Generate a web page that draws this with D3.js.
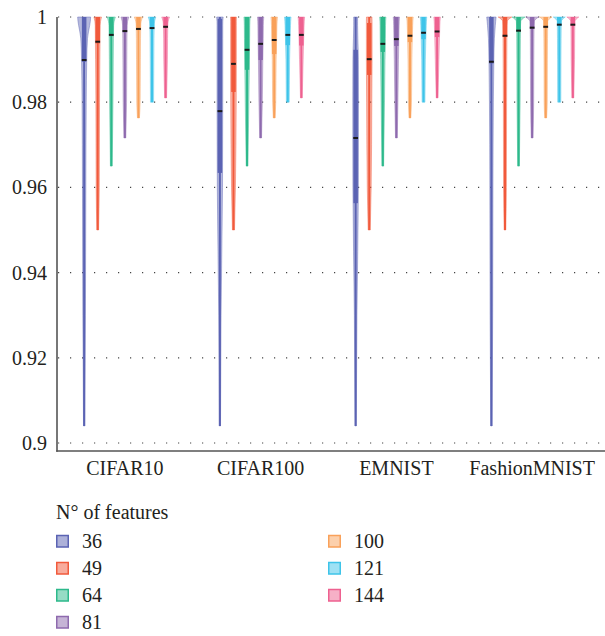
<!DOCTYPE html>
<html><head><meta charset="utf-8">
<script src="https://cdn.jsdelivr.net/npm/d3@7"></script>
<style>
body{margin:0;background:#fff;}
svg{display:block;}
text{font-family:"Liberation Serif","Times New Roman",serif;fill:#231f20;}
</style></head>
<body><svg id="chart" width="605" height="636"></svg>
<script>
// ---- data ----
const datasets = ["CIFAR10", "CIFAR100", "EMNIST", "FashionMNIST"];
const features = ["36", "49", "64", "81", "100", "121", "144"];
const yTicks = [0.9, 0.92, 0.94, 0.96, 0.98, 1];
const yTickLabels = ["0.9", "0.92", "0.94", "0.96", "0.98", "1"];

// lower extremes (same for every dataset) and upper extremes
const minValues = [0.904, 0.950, 0.965, 0.9716, 0.9763, 0.980, 0.981];
const maxValues = [1, 1, 1, 1, 1, 1, 1];

const medCIFAR10 = [0.9899, 0.9942, 0.9958, 0.9967, 0.9972, 0.9974, 0.9977];
const q1CIFAR10  = [0.9895, 0.9938, 0.9955, 0.9964, 0.9969, 0.9972, 0.9975];
const q3CIFAR10  = [1, 1, 1, 1, 1, 1, 1];

const medCIFAR100 = [0.9779, 0.9890, 0.9923, 0.9937, 0.9946, 0.9958, 0.9958];
const q1CIFAR100  = [0.9634, 0.9824, 0.9876, 0.9899, 0.9913, 0.9934, 0.9933];
const q3CIFAR100  = [0.9996, 1, 1, 1, 1, 1, 1];

const medEMNIST = [0.9716, 0.9901, 0.9937, 0.9948, 0.9956, 0.9963, 0.9966];
const q1EMNIST  = [0.9563, 0.9864, 0.9918, 0.9932, 0.9941, 0.9948, 0.9953];
const q3EMNIST  = [0.9923, 0.9986, 1, 1, 1, 1, 1];

const medFashion = [0.9895, 0.9956, 0.9968, 0.9975, 0.9977, 0.9982, 0.9982];
const q1Fashion  = [0.9891, 0.9953, 0.9965, 0.9972, 0.9974, 0.9979, 0.9979];
const q3Fashion  = [1, 1, 1, 1, 1, 1, 1];

// relative density of each violin at these accuracy levels
const densLevels = [1, 0.999, 0.998, 0.995, 0.99, 0.98, 0.96, 0.93, 0.90];
const densCIFAR10 = [
  [1.0, 0.95, 0.85, 0.52, 0.40, 0.32, 0.26, 0.20, 0.16],
  [0.58, 0.44, 0.38, 0.36, 0.33, 0.28, 0.24, 0.20, 0.20],
  [0.62, 0.44, 0.36, 0.33, 0.30, 0.26, 0.22, 0.20, 0.20],
  [0.60, 0.42, 0.35, 0.32, 0.30, 0.26, 0.22, 0.20, 0.20],
  [0.64, 0.42, 0.35, 0.32, 0.30, 0.26, 0.22, 0.20, 0.20],
  [0.58, 0.40, 0.34, 0.30, 0.28, 0.24, 0.20, 0.20, 0.20],
  [0.60, 0.40, 0.34, 0.30, 0.28, 0.24, 0.20, 0.20, 0.20]
];
const densCIFAR100 = [
  [0.50, 0.45, 0.44, 0.44, 0.44, 0.44, 0.40, 0.18, 0.15],
  [0.45, 0.44, 0.44, 0.44, 0.44, 0.42, 0.30, 0.20, 0.20],
  [0.48, 0.44, 0.42, 0.40, 0.36, 0.28, 0.20, 0.20, 0.20],
  [0.48, 0.44, 0.42, 0.40, 0.34, 0.26, 0.20, 0.20, 0.20],
  [0.50, 0.45, 0.42, 0.38, 0.30, 0.24, 0.20, 0.20, 0.20],
  [0.50, 0.45, 0.42, 0.36, 0.28, 0.22, 0.20, 0.20, 0.20],
  [0.50, 0.45, 0.42, 0.36, 0.28, 0.22, 0.20, 0.20, 0.20]
];
const densEMNIST = [
  [0.30, 0.30, 0.30, 0.34, 0.42, 0.44, 0.42, 0.20, 0.15],
  [0.42, 0.44, 0.44, 0.44, 0.44, 0.40, 0.30, 0.20, 0.20],
  [0.48, 0.44, 0.42, 0.40, 0.34, 0.26, 0.20, 0.20, 0.20],
  [0.48, 0.44, 0.42, 0.38, 0.32, 0.24, 0.20, 0.20, 0.20],
  [0.50, 0.45, 0.42, 0.36, 0.30, 0.24, 0.20, 0.20, 0.20],
  [0.50, 0.45, 0.42, 0.36, 0.28, 0.22, 0.20, 0.20, 0.20],
  [0.50, 0.45, 0.42, 0.36, 0.28, 0.22, 0.20, 0.20, 0.20]
];
const densFashion = [
  [0.72, 0.66, 0.60, 0.46, 0.38, 0.30, 0.24, 0.20, 0.16],
  [1.05, 0.36, 0.32, 0.30, 0.28, 0.25, 0.22, 0.20, 0.20],
  [1.00, 0.34, 0.30, 0.28, 0.26, 0.24, 0.20, 0.20, 0.20],
  [1.00, 0.34, 0.30, 0.28, 0.26, 0.24, 0.20, 0.20, 0.20],
  [0.95, 0.32, 0.30, 0.28, 0.26, 0.24, 0.20, 0.20, 0.20],
  [0.92, 0.32, 0.30, 0.28, 0.26, 0.24, 0.20, 0.20, 0.20],
  [0.92, 0.32, 0.30, 0.28, 0.26, 0.24, 0.20, 0.20, 0.20]
];

const legendTitle = "N° of features";
const palette = ["#5b63b3", "#f15a3c", "#2db98b", "#8e6aae", "#f9a15a", "#3ec4e9", "#ee6190"];

// ---- assemble ----
const statTable = {
  CIFAR10: [medCIFAR10, q1CIFAR10, q3CIFAR10, densCIFAR10],
  CIFAR100: [medCIFAR100, q1CIFAR100, q3CIFAR100, densCIFAR100],
  EMNIST: [medEMNIST, q1EMNIST, q3EMNIST, densEMNIST],
  FashionMNIST: [medFashion, q1Fashion, q3Fashion, densFashion]
};
const violins = [];
datasets.forEach(ds => {
  const [med, q1, q3, dens] = statTable[ds];
  features.forEach((f, i) => {
    violins.push({ds, f, i, min: minValues[i], max: maxValues[i], med: med[i], q1: q1[i], q3: q3[i], dens: dens[i]});
  });
});

const svg = d3.select("#chart");
const x0 = d3.scaleBand().domain(datasets).range([57, 600]);
const x1 = d3.scalePoint().domain(features).range([0, x0.bandwidth()]).padding(2);
const y = d3.scaleLinear().domain([0.9, 1]).range([443, 17]);
const color = d3.scaleOrdinal().domain(features).range(palette);
const w = d3.scaleLinear().domain([0, 1]).range([0, 6.5]);
const axisY = 451;

// gridlines
svg.append("g").selectAll("line").data(yTicks).join("line")
  .attr("x1", 58).attr("x2", 605)
  .attr("y1", d => y(d)).attr("y2", d => y(d))
  .attr("stroke", "#444").attr("stroke-width", 1.2)
  .attr("stroke-dasharray", "1.2,10.8");

const g = svg.append("g");
violins.forEach(v => {
  const cx = x0(v.ds) + x1(v.f);
  const col = color(v.f);
  const dScale = d3.scaleLinear().domain(densLevels).range(v.dens);
  const pts = densLevels.map((l, k) => ({v: l, d: v.dens[k]})).filter(p => p.v >= v.min && p.v <= v.max);
  pts.push({v: v.min, d: dScale(v.min) * 0.6});
  const area = d3.area()
    .y(p => y(p.v))
    .x0(p => cx - w(p.d))
    .x1(p => cx + w(p.d))
    .curve(d3.curveMonotoneY);
  g.append("path").attr("d", area(pts))
    .attr("fill", col).attr("fill-opacity", 0.45)
    .attr("stroke", col).attr("stroke-opacity", 0.55).attr("stroke-width", 0.8);
  // whisker
  g.append("line").attr("x1", cx).attr("x2", cx)
    .attr("y1", y(v.max)).attr("y2", y(v.min))
    .attr("stroke", col).attr("stroke-width", 2);
  // box
  g.append("rect").attr("x", cx - 2.25).attr("width", 4.5)
    .attr("y", y(v.q3)).attr("height", y(v.q1) - y(v.q3))
    .attr("fill", col);
  // median
  g.append("rect").attr("x", cx - 2.4).attr("width", 4.8)
    .attr("y", y(v.med) - 1).attr("height", 2)
    .attr("fill", "#1a1a1a");
});

// axes
const yAxis = svg.append("g").attr("transform", "translate(57,0)")
  .call(d3.axisLeft(y).tickValues(yTicks).tickFormat((d, i) => yTickLabels[i]).tickSize(0).tickPadding(10));
yAxis.select(".domain").remove();
yAxis.selectAll("text").attr("font-size", 20).style("font-family", "Liberation Serif, serif").attr("fill", "#231f20");

const xAxis = svg.append("g").attr("transform", `translate(0,${axisY})`)
  .call(d3.axisBottom(x0).tickSize(0).tickPadding(10));
xAxis.select(".domain").remove();
xAxis.selectAll("text").attr("font-size", 20).style("font-family", "Liberation Serif, serif").attr("fill", "#231f20");

svg.append("line").attr("x1", 57).attr("x2", 57).attr("y1", 17).attr("y2", axisY + 0.75)
  .attr("stroke", "#555").attr("stroke-width", 1.6);
svg.append("line").attr("x1", 56.2).attr("x2", 605).attr("y1", axisY).attr("y2", axisY)
  .attr("stroke", "#555").attr("stroke-width", 1.6);

// legend
const leg = svg.append("g");
leg.append("text").attr("x", 56).attr("y", 519).attr("font-size", 20).text(legendTitle);
const legX = d3.scaleOrdinal().domain([0, 1]).range([56, 328]);
const legY = d3.scaleLinear().domain([0, 1]).range([547.5, 574.5]);
features.forEach((f, i) => {
  const col = i < 4 ? 0 : 1;
  const row = i < 4 ? i : i - 4;
  const lx = legX(col), ly = legY(row);
  leg.append("rect").attr("x", lx + 0.75).attr("y", ly - 12).attr("width", 11.5).attr("height", 11.5)
    .attr("fill", color(f)).attr("fill-opacity", 0.5)
    .attr("stroke", color(f)).attr("stroke-width", 1.5);
  leg.append("text").attr("x", lx + 26).attr("y", ly).attr("font-size", 20).text(f);
});
</script></body></html>
